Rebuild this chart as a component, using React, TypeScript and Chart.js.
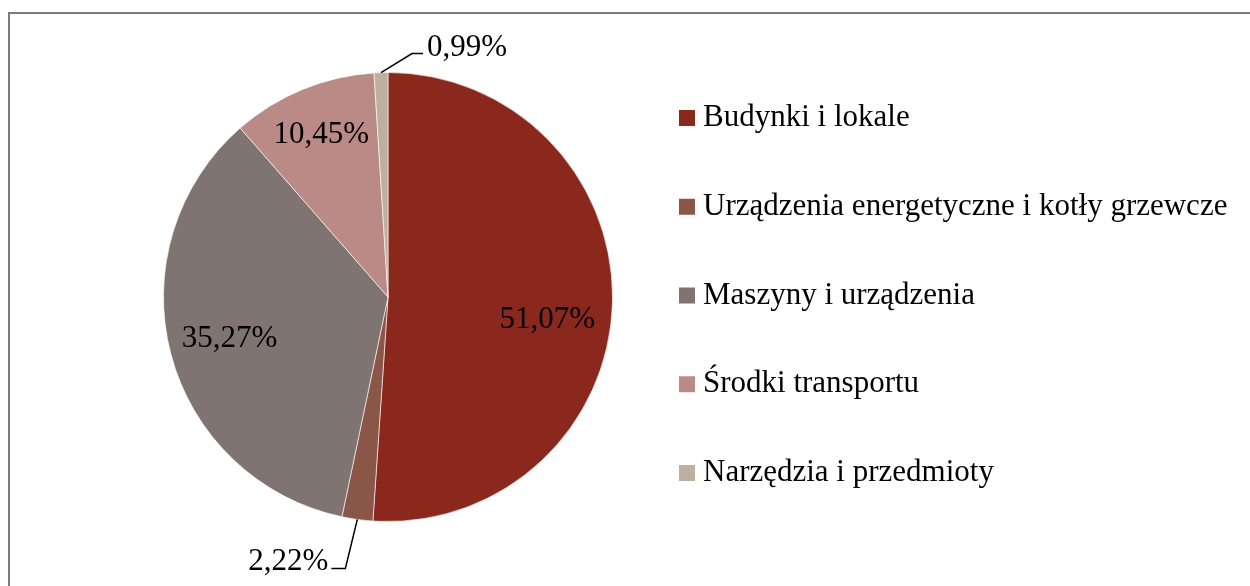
import React, { useEffect, useRef } from "react";
import { Chart, registerables } from "chart.js";

Chart.register(...registerables);

const categories = [
  "Budynki i lokale",
  "Urządzenia energetyczne i kotły grzewcze",
  "Maszyny i urządzenia",
  "Środki transportu",
  "Narzędzia i przedmioty",
];
const values = [51.07, 2.22, 35.27, 10.45, 0.99];
const valueLabels = ["51,07%", "2,22%", "35,27%", "10,45%", "0,99%"];
const colors = ["#8A281E", "#8A5648", "#7F7472", "#B98A86", "#BEB09E"];

const FONT = '"Liberation Serif", serif';
const FONT_SIZE = 31;

const labelPlugin = {
  id: "customLabels",
  afterDatasetsDraw(chart: any, _args: any, opts: any) {
    const ctx = chart.ctx;
    const meta = chart.getDatasetMeta(0);
    ctx.save();
    ctx.font = `${FONT_SIZE}px ${FONT}`;
    ctx.fillStyle = "#000";
    meta.data.forEach((arc: any, i: number) => {
      const p = arc.getProps(["x", "y", "startAngle", "endAngle", "outerRadius"], true);
      const mid = (p.startAngle + p.endAngle) / 2;
      const lead = opts.leaders[i];
      if (lead) {
        const sx = p.x + Math.cos(mid) * p.outerRadius;
        const sy = p.y + Math.sin(mid) * p.outerRadius;
        const ex = sx + lead.dx;
        const ey = sy + lead.dy;
        const hx = ex + lead.h;
        ctx.strokeStyle = "#000";
        ctx.lineWidth = 1.5;
        ctx.beginPath();
        ctx.moveTo(sx, sy);
        ctx.lineTo(ex, ey);
        ctx.lineTo(hx, ey);
        ctx.stroke();
        ctx.textBaseline = "alphabetic";
        ctx.textAlign = lead.h > 0 ? "left" : "right";
        ctx.fillText(valueLabels[i], hx + (lead.h > 0 ? 4 : -3), ey + 2);
      } else {
        const f = opts.radial[i] ?? 0.73;
        const dy = opts.dy[i] ?? 0;
        const x = p.x + Math.cos(mid) * p.outerRadius * f;
        const y = p.y + Math.sin(mid) * p.outerRadius * f + dy;
        ctx.textAlign = "center";
        ctx.textBaseline = "middle";
        ctx.fillText(valueLabels[i], x, y);
      }
    });
    // legend
    const lg = opts.legend;
    categories.forEach((c, i) => {
      const cy = lg.top + i * lg.gap;
      ctx.fillStyle = colors[i];
      ctx.fillRect(lg.x, cy - lg.box / 2, lg.box, lg.box);
      ctx.fillStyle = "#000";
      ctx.textAlign = "left";
      ctx.textBaseline = "middle";
      ctx.fillText(c, lg.x + lg.box + 8, cy);
    });
    ctx.restore();
  },
};

export default function App() {
  const ref = useRef<HTMLCanvasElement>(null);
  useEffect(() => {
    const chart = new Chart(ref.current!, {
      type: "pie",
      data: {
        labels: categories,
        datasets: [
          {
            data: values,
            backgroundColor: colors,
            borderColor: "rgba(255,255,255,0.6)",
            borderWidth: 1,
          },
        ],
      },
      options: {
        responsive: false,
        animation: false,
        layout: { padding: { left: 163, right: 637, top: 72, bottom: 64 } },
        plugins: {
          legend: { display: false },
          tooltip: { enabled: false },
          customLabels: {
            leaders: { 4: { dx: 31, dy: -19, h: 11 }, 1: { dx: -12, dy: 49, h: -14 } },
            radial: { 0: 0.71, 2: 0.73, 3: 0.78 },
            dy: { 0: 18 },
            legend: { x: 679, box: 16, top: 118, gap: 88.75 },
          },
        } as any,
      },
      plugins: [labelPlugin],
    });
    return () => chart.destroy();
  }, []);
  return (
    <div style={{ position: "fixed", left: 0, top: 0, width: 1250, height: 586, background: "#fff", overflow: "hidden" }}>
      <div
        style={{
          position: "absolute",
          left: 8,
          top: 12,
          width: 1300,
          height: 700,
          border: "2px solid #7a7a7a",
          boxSizing: "border-box",
        }}
      />
      <canvas ref={ref} width={1250} height={586} style={{ position: "absolute", left: 0, top: 0 }} />
    </div>
  );
}
